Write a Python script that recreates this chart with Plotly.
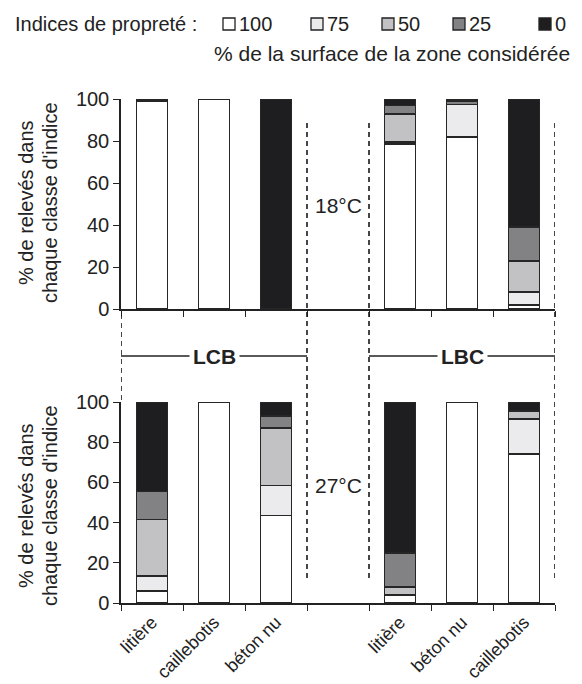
import plotly.graph_objects as go

# ---------------- data ----------------
groups = ["LCB", "LBC"]
categories_LCB = ["litière", "caillebotis", "béton nu"]
categories_LBC = ["litière", "béton nu", "caillebotis"]
temperatures = ["18°C", "27°C"]
classes = ["100", "75", "50", "25", "0"]
class_colors = ["#ffffff", "#ebebed", "#c2c2c4", "#828284", "#1e1e20"]

# % of records in each cleanliness class; order: LCB litière, caillebotis, béton nu, LBC litière, béton nu, caillebotis
c100_18C = [99, 100, 0, 78.5, 82, 2]
c75_18C = [0, 0, 0, 1, 15.3, 6]
c50_18C = [0, 0, 0, 13.5, 0, 15]
c25_18C = [0, 0, 0, 4, 1.7, 16]
c0_18C = [1, 0, 100, 3, 1, 61]

c100_27C = [6, 100, 43.5, 4, 100, 74]
c75_27C = [7.5, 0, 15, 0, 0, 17.5]
c50_27C = [28, 0, 28.5, 4, 0, 4]
c25_27C = [14, 0, 6, 17, 0, 0]
c0_27C = [44.5, 0, 7, 75, 0, 4.5]

y_ticks = [0, 20, 40, 60, 80, 100]

# ---------------- layout helpers (window pixel -> paper) ----------------
FONT = "Liberation Sans, Arial, sans-serif"
INK = "#222222"
OFF = 8                      # default page body margin
PL, PR, PT, PB = 121, 555, 99, 603   # plot area in window pixels
W, H = 582 - OFF, 684 - OFF
PW = PR - PL
PH = PB - PT


def fx(px):
    return (px - PL) / PW


def fy(py):
    return (PB - py) / PH


ids_LCB = ["LCB|" + c for c in categories_LCB]
ids_LBC = ["LBC|" + c for c in categories_LBC]
slots = ids_LCB + ["gap"] + ids_LBC
slot_text = categories_LCB + [""] + categories_LBC
bar_x = ids_LCB + ids_LBC

panels = [
    ("x", "y", [c100_18C, c75_18C, c50_18C, c25_18C, c0_18C]),
    ("x2", "y2", [c100_27C, c75_27C, c50_27C, c25_27C, c0_27C]),
]

fig = go.Figure()
for xa, ya, series in panels:
    for name, color, vals in zip(classes, class_colors, series):
        fig.add_trace(go.Bar(
            x=bar_x, y=vals, name=name, xaxis=xa, yaxis=ya,
            marker=dict(color=color, line=dict(color="#262626", width=1.6)),
            showlegend=False, hoverinfo="skip",
        ))

top_dom = [fy(309), 1.0]
bot_dom = [0.0, fy(402)]

xcommon = dict(
    type="category", categoryorder="array", categoryarray=slots,
    tickmode="array", tickvals=slots, ticktext=slot_text,
    tickson="boundaries", ticks="outside", ticklen=6, tickwidth=1.3, tickcolor=INK,
    showline=True, linecolor=INK, linewidth=1.5, showgrid=False, zeroline=False,
    range=[-0.5, 6.5], domain=[0, 1], fixedrange=True, automargin=False,
)
ycommon = dict(
    range=[0, 100], tickvals=y_ticks, ticks="outside", ticklen=6, tickwidth=1.3,
    tickcolor=INK, showline=True, linecolor=INK, linewidth=1.5, showgrid=False,
    zeroline=False, tickfont=dict(size=20, color=INK, family=FONT), fixedrange=True,
    automargin=False,
)

fig.update_layout(
    width=W, height=H,
    margin=dict(l=PL - OFF, r=W - (PR - OFF), t=PT - OFF, b=H - (PB - OFF), autoexpand=False),
    paper_bgcolor="white", plot_bgcolor="rgba(0,0,0,0)",
    barmode="stack", bargap=0.5,
    font=dict(family=FONT, color=INK, size=20),
    xaxis=dict(xcommon, anchor="y", showticklabels=False),
    yaxis=dict(ycommon, domain=top_dom, anchor="x"),
    xaxis2=dict(xcommon, anchor="y2", showticklabels=True, tickangle=-45,
                tickfont=dict(size=18, color=INK, family=FONT)),
    yaxis2=dict(ycommon, domain=bot_dom, anchor="x2"),
)

shapes = []
dash = dict(color="#1a1a1a", width=1.6, dash="5px,4px")
for xv in [2.5, 3.5, 6.5]:
    shapes.append(dict(type="line", xref="x", yref="paper", x0=xv, x1=xv,
                       y0=fy(578), y1=fy(123), line=dash))
shapes.append(dict(type="line", xref="x", yref="paper", x0=-0.5, x1=-0.5,
                   y0=fy(400), y1=fy(311), line=dash))
for x0, x1 in [(-0.5, 2.5), (3.5, 6.5)]:
    shapes.append(dict(type="line", xref="x", yref="paper", x0=x0, x1=x1,
                       y0=fy(356), y1=fy(356), line=dict(color=INK, width=1.3)))

annotations = []
for gname, xc in zip(groups, [1, 5]):
    annotations.append(dict(text="<b>" + gname + "</b>", xref="x", yref="paper", x=xc, y=fy(356),
                            showarrow=False, font=dict(size=21, color=INK, family=FONT),
                            bgcolor="white", borderpad=3, xanchor="center", yanchor="middle"))
for temp, py in zip(temperatures, [205, 485]):
    annotations.append(dict(text=temp, xref="x", yref="paper", x=3, y=fy(py), showarrow=False,
                            font=dict(size=21, color=INK, family=FONT), bgcolor="white",
                            xanchor="center", yanchor="middle"))
ytitle_lines = ["% de relevés dans", "chaque classe d'indice"]
for py in [203, 506]:
    for line, px in zip(ytitle_lines, [26, 50]):
        annotations.append(dict(text=line, xref="paper", yref="paper", x=fx(px), y=fy(py),
                                textangle=-90, showarrow=False, xanchor="center", yanchor="middle",
                                font=dict(size=20, color=INK, family=FONT)))

# legend (top)
annotations.append(dict(text="Indices de propreté :", xref="paper", yref="paper", x=fx(13), y=fy(24),
                        xanchor="left", yanchor="middle", showarrow=False,
                        font=dict(size=20, color=INK, family=FONT)))
box_cx = [229, 317, 388, 459, 545]
for name, color, cx in zip(classes, class_colors, box_cx):
    shapes.append(dict(type="rect", xref="paper", yref="paper", x0=fx(cx - 6), x1=fx(cx + 6),
                       y0=fy(30), y1=fy(18), fillcolor=color, line=dict(color=INK, width=1.3)))
    annotations.append(dict(text=name, xref="paper", yref="paper", x=fx(cx + 8), y=fy(24),
                            xanchor="left", yanchor="middle", showarrow=False,
                            font=dict(size=20, color=INK, family=FONT)))
annotations.append(dict(text="% de la surface de la zone considérée", xref="paper", yref="paper",
                        x=fx(572), y=fy(53), xanchor="right", yanchor="middle", showarrow=False,
                        font=dict(size=21, color=INK, family=FONT)))

fig.update_layout(shapes=shapes, annotations=annotations)
fig.write_html("out.html")
